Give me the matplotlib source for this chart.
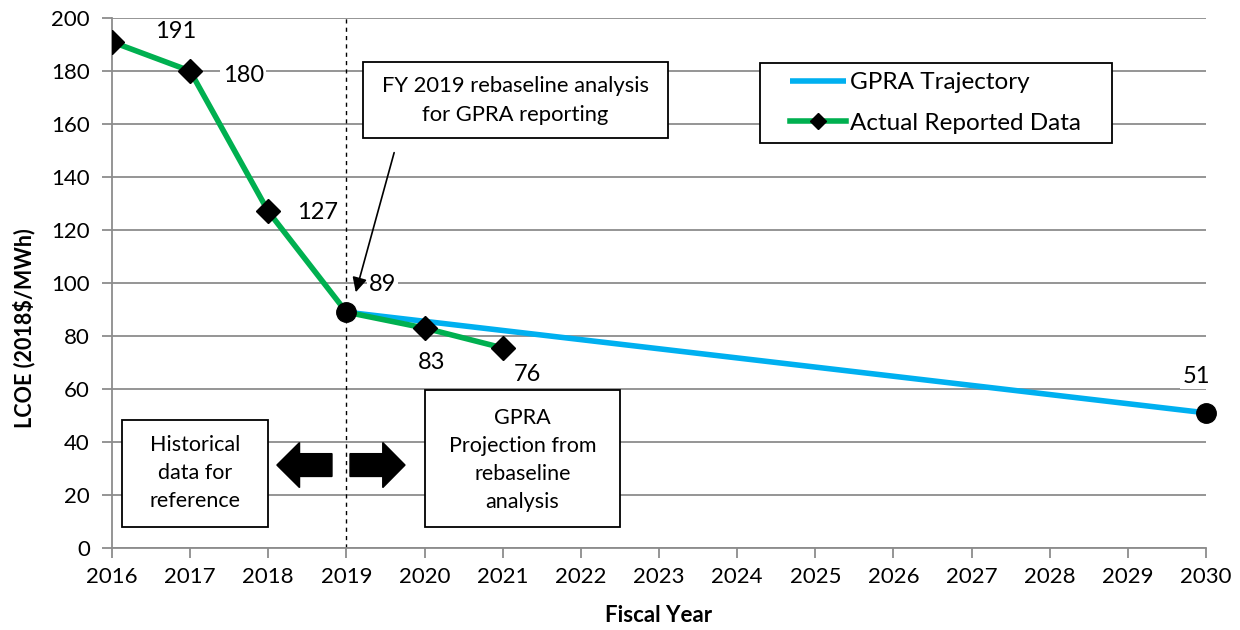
import matplotlib
matplotlib.use("Agg")
import matplotlib.pyplot as plt
from matplotlib.patches import Polygon, Rectangle

plt.rcParams['font.family'] = ['Lato', 'DejaVu Sans']

years_actual = [2016, 2017, 2018, 2019, 2020, 2021]
lcoe_actual = [191, 180, 127, 89, 83, 75.5]
labels_actual = ["191", "180", "127", "89", "83", "76"]

years_gpra = [2019, 2030]
lcoe_gpra = [89, 51]
labels_gpra = ["", "51"]

x_ticks = list(range(2016, 2031))
y_ticks = list(range(0, 201, 20))

GREEN = '#00B050'
BLUE = '#00B0F0'
GRID = '#8c8c8c'

fig = plt.figure(figsize=(12.4, 6.3), dpi=100)
ax = fig.add_axes([112/1240, 1-548/630, 1094/1240, 530/630])

ax.set_xlim(2016, 2030)
ax.set_ylim(0, 200)
ax.set_xticks(x_ticks)
ax.set_yticks(y_ticks)
ax.tick_params(axis='both', direction='out', length=7, width=1.3, color=GRID,
               labelsize=16)
ax.tick_params(axis='x', pad=7)
ax.tick_params(axis='y', pad=9)
ax.grid(axis='y', color=GRID, linewidth=1.3)
ax.set_axisbelow(True)
for s in ['top', 'right']:
    ax.spines[s].set_visible(False)
for s in ['left', 'bottom']:
    ax.spines[s].set_color(GRID)
    ax.spines[s].set_linewidth(1.3)

# dashed divider at 2019
ax.axvline(2019, color='black', linestyle=(0, (3, 3)), linewidth=1, zorder=2)

# lines
ax.plot(years_gpra, lcoe_gpra, color=BLUE, linewidth=4, zorder=3,
        label='GPRA Trajectory', solid_capstyle='butt')
marker_idx = [i for i, x in enumerate(years_actual) if x not in years_gpra]
ax.plot(years_actual, lcoe_actual, color=GREEN, linewidth=4, zorder=4,
        marker='D', markersize=12, markerfacecolor='black', markeredgecolor='black',
        markevery=marker_idx, label='Actual Reported Data')
ax.plot(years_gpra, lcoe_gpra, linestyle='none', marker='o', markersize=14,
        color='black', zorder=5, clip_on=False)

# value labels
offs_actual = [(64, 10), (53, -4), (49, -1), (36, 28), (7, -34), (25, -27)]
for x, y, t, o in zip(years_actual, lcoe_actual, labels_actual, offs_actual):
    ax.annotate(t, (x, y), xytext=o, textcoords='offset pixels', ha='center',
                va='center', fontsize=17,
                bbox=dict(facecolor='white', edgecolor='none', pad=1.5), zorder=6)
for x, y, t in zip(years_gpra, lcoe_gpra, labels_gpra):
    if t:
        ax.annotate(t, (x, y), xytext=(-10, 36), textcoords='offset pixels',
                    ha='center', va='center', fontsize=17,
                    bbox=dict(facecolor='white', edgecolor='none', pad=1.5), zorder=6)

# boxes
def box(x0, x1, y0, y1):
    ax.add_patch(Rectangle((x0, y0), x1 - x0, y1 - y0, facecolor='white',
                           edgecolor='black', linewidth=1.3, zorder=7))

box(2019.21, 2023.115, 154.7, 183.4)
ax.text(2021.16, 169, "FY 2019 rebaseline analysis\nfor GPRA reporting", ha='center',
        va='center', fontsize=15.8, linespacing=1.55, zorder=8)

box(2016.128, 2017.996, 7.9, 48.3)
ax.text(2017.062, 28.2, "Historical\ndata for\nreference", ha='center', va='center',
        fontsize=15.5, linespacing=1.5, zorder=8)

box(2020.006, 2022.50, 7.9, 59.6)
ax.text(2021.253, 33.2, "GPRA\nProjection from\nrebaseline\nanalysis", ha='center',
        va='center', fontsize=15.5, linespacing=1.5, zorder=8)

# arrow to 2019 point
ax.annotate("", xy=(2019.11, 95.5), xytext=(2019.62, 150.2),
            arrowprops=dict(arrowstyle='-|>', color='black', lw=1.2,
                            mutation_scale=22), zorder=8)

# block arrows
yc, bh, hh = 31.3, 4.3, 8.5
left_arrow = [(2018.11, yc), (2018.40, yc + hh), (2018.40, yc + bh), (2018.815, yc + bh),
              (2018.815, yc - bh), (2018.40, yc - bh), (2018.40, yc - hh)]
right_arrow = [(2019.75, yc), (2019.465, yc + hh), (2019.465, yc + bh), (2019.046, yc + bh),
               (2019.046, yc - bh), (2019.465, yc - bh), (2019.465, yc - hh)]
for pts in (left_arrow, right_arrow):
    ax.add_patch(Polygon(pts, closed=True, facecolor='black', edgecolor='black', zorder=8))

ax.set_xlabel("Fiscal Year", fontsize=16, fontweight='bold', va='center')
ax.xaxis.set_label_coords(0.5, -(616 - 548) / 530)
ax.set_ylabel("LCOE (2018$/MWh)", fontsize=15.5, fontweight='bold', va='center')
ax.yaxis.set_label_coords(-(112 - 24) / 1094, (548 - 328) / 530)

# legend (content without frame + separate frame)
ax.add_patch(Rectangle((0.5923, 0.7642), 0.914 - 0.5923, 0.9151 - 0.7642,
                       transform=ax.transAxes, facecolor='white', edgecolor='black',
                       linewidth=1.3, zorder=9))
leg = ax.legend(loc='center left', bbox_to_anchor=(0.6197, 0.8396),
                borderaxespad=0, borderpad=0, fontsize=17.5, frameon=False,
                handlelength=2.3, handletextpad=0.15, labelspacing=0.8,
                markerscale=0.7)
leg.set_zorder(10)

fig.savefig("out.png", dpi=100, facecolor='white')
